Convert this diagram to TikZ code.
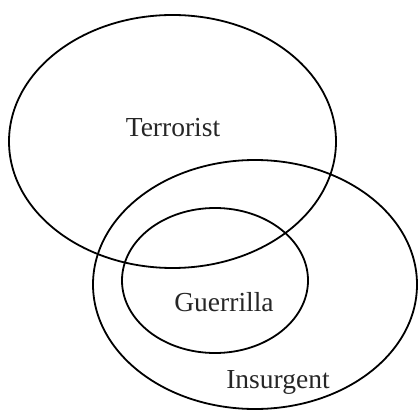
\documentclass[tikz,border=0pt]{standalone}
\usepackage{fontspec}
\setmainfont{Liberation Serif}
\usetikzlibrary{shapes.geometric}
\begin{document}
\begin{tikzpicture}[x=1pt,y=-1pt,
  setring/.style={ellipse, draw=black, line width=1.8pt, inner sep=0pt},
  setlabel/.style={font=\fontsize{27.5}{30}\selectfont, text=black!85, inner sep=0pt}]
\useasboundingbox (0,0) rectangle (419,411);
\node[setring, minimum width=327pt, minimum height=253pt] (terr) at (172.5,141.5) {};
\node[setring, minimum width=324pt, minimum height=249pt] (insu) at (255,284.5) {};
\node[setring, minimum width=186pt, minimum height=145pt] (guer) at (215,280.5) {};
\node[setlabel] (terrlbl) at (173,128) {Terrorist};
\node[setlabel] (guerlbl) at (224,302) {Guerrilla};
\node[setlabel] (insulbl) at (278,382) {Insurgent};
\end{tikzpicture}
\end{document}
